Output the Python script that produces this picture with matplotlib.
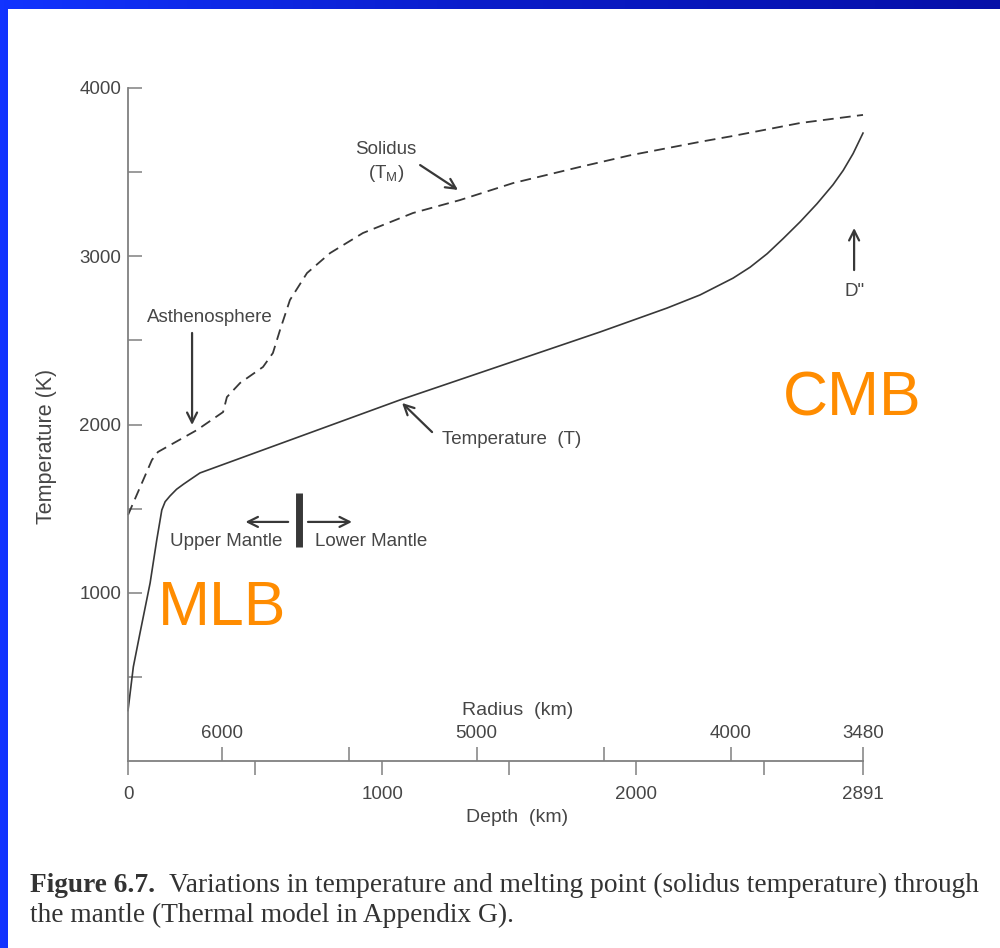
import numpy as np
import matplotlib.pyplot as plt
from matplotlib.colors import LinearSegmentedColormap
from matplotlib.patches import Rectangle

plt.rcParams['font.family'] = ['Liberation Sans', 'DejaVu Sans']

# mantle thermal model: depth (km) against temperature (K)
depth_temp = [0, 21, 47, 87, 113, 133, 146, 165, 191, 218, 244, 283, 1070, 1857, 2120, 2250, 2380,
              2447, 2514, 2577, 2644, 2710, 2773, 2813, 2852, 2891]
temp = [300, 560, 759, 1058, 1313, 1492, 1541, 1575, 1615, 1645, 1672, 1712, 2146, 2550, 2692, 2770, 2870,
        2935, 3015, 3105, 3205, 3312, 3425, 3510, 3610, 3732]

# solidus (melting point) curve
depth_solidus = [0, 94, 118, 271, 374, 389, 441, 531, 570, 598, 637, 704, 795, 924, 1121, 1306,
                 1515, 1778, 1975, 2250, 2380, 2644, 2891]
solidus = [1462, 1789, 1837, 1967, 2074, 2163, 2247, 2342, 2425, 2562, 2740, 2900, 3019, 3138, 3257, 3334,
           3435, 3531, 3600, 3680, 3715, 3792, 3840]

earth_radius = 6371
cmb_depth = 2891
depth_ticks = [0, 500, 1000, 1500, 2000, 2500, 2891]
depth_labels = ['0', '', '1000', '', '2000', '', '2891']
radius_ticks = [6000, 5500, 5000, 4500, 4000, 3480]
radius_labels = ['6000', '', '5000', '', '4000', '3480']
temp_ticks = [500, 1000, 1500, 2000, 2500, 3000, 3500, 4000]
temp_labels = ['', '1000', '', '2000', '', '3000', '', '4000']

ink = '#383838'
axis_grey = '#808080'
text_grey = '#464646'
orange = '#ff8c00'

W, H = 1000, 948
fig = plt.figure(figsize=(W / 100, H / 100), dpi=100)

# slide background: blue band with a white page on top
bg = fig.add_axes([0, 0, 1, 1], zorder=-10)
cmap = LinearSegmentedColormap.from_list('slide', ['#1234ff', '#0a1cc8', '#0610a8'])
bg.imshow(np.linspace(0, 1, 256).reshape(1, -1), cmap=cmap, aspect='auto', extent=[0, 1, 0, 1])
bg.add_patch(Rectangle((8 / W, 0), 1, 1 - 9 / H, color='white', lw=0))
bg.set_xlim(0, 1)
bg.set_ylim(0, 1)
bg.axis('off')

ax = fig.add_axes([128 / W, 1 - 761 / H, 735 / W, 673 / H])
ax.patch.set_visible(False)
ax.set_xlim(0, cmb_depth)
ax.set_ylim(0, 4000)

ax.plot(depth_temp, temp, color=ink, lw=1.2, clip_on=False, solid_joinstyle='round')
ax.plot(depth_solidus, solidus, color=ink, lw=1.3, ls=(0, (6, 3.5)), clip_on=False)

for s in ['top', 'right']:
    ax.spines[s].set_visible(False)
for s in ['left', 'bottom']:
    ax.spines[s].set_color(axis_grey)
    ax.spines[s].set_linewidth(1.3)

ax.set_xticks(depth_ticks, depth_labels)
ax.tick_params(axis='x', direction='out', length=10, width=1.1, color=axis_grey,
               labelcolor=text_grey, labelsize=13.5, pad=8)
ax.set_yticks(temp_ticks, temp_labels)
ax.tick_params(axis='y', direction='in', length=10, width=1.1, color=axis_grey,
               labelcolor=text_grey, labelsize=13.5, pad=5)
ax.set_xlabel('Depth  (km)', fontsize=14, color=text_grey, labelpad=5)
ax.xaxis.set_label_coords(0.53, -0.072)
ax.set_ylabel('Temperature (K)', fontsize=15.5, color=text_grey)
ax.yaxis.set_label_coords(-0.097, 0.468)

# radius scale sharing the depth axis line, ticks pointing up
rax = ax.twiny()
rax.set_xlim(earth_radius, earth_radius - cmb_depth)
rax.spines['top'].set_position(('axes', 0.0))
for s in ['top', 'bottom', 'left', 'right']:
    rax.spines[s].set_visible(False)
rax.set_xticks(radius_ticks, radius_labels)
rax.tick_params(axis='x', direction='out', length=10, width=1.1, color=axis_grey,
                labelcolor=text_grey, labelsize=13.5, pad=4)
rax.set_xlabel('Radius  (km)', fontsize=14, color=text_grey, labelpad=5)
rax.xaxis.set_label_coords(0.53, 0.069)

arrow = dict(arrowstyle='->', color=ink, lw=1.6, mutation_scale=18, shrinkA=0, shrinkB=0)
label_kw = dict(fontsize=13.5, color=text_grey)

ax.text(1015, 3632, 'Solidus', ha='center', va='center', **label_kw)
ax.text(1015, 3489, r'(T$_\mathregular{M}$)', ha='center', va='center', **label_kw)
ax.annotate('', xy=(1298, 3394), xytext=(1149, 3542), arrowprops=arrow)

ax.text(323, 2633, 'Asthenosphere', ha='center', va='center', **label_kw)
ax.annotate('', xy=(252, 1997), xytext=(252, 2544), arrowprops=arrow)

ax.text(1235, 1908, 'Temperature  (T)', ha='left', va='center', **label_kw)
ax.annotate('', xy=(1078, 2128), xytext=(1196, 1955), arrowprops=arrow)

ax.text(2856, 2793, 'D"', ha='center', va='center', **label_kw)
ax.annotate('', xy=(2856, 3168), xytext=(2856, 2918), arrowprops=arrow)

# upper/lower mantle boundary marker
ax.plot([671, 671], [1272, 1593], color=ink, lw=5, solid_capstyle='butt')
ax.annotate('', xy=(462, 1421), xytext=(630, 1421), arrowprops=arrow)
ax.annotate('', xy=(881, 1421), xytext=(708, 1421), arrowprops=arrow)
ax.text(386, 1302, 'Upper Mantle', ha='center', va='center', **label_kw)
ax.text(956, 1302, 'Lower Mantle', ha='center', va='center', **label_kw)

ax.text(118, 808, 'MLB', ha='left', va='baseline', fontsize=45, color=orange)
ax.text(2577, 2056, 'CMB', ha='left', va='baseline', fontsize=45, color=orange)

# figure caption
cap_kw = dict(fontsize=19.7, color='#333333', family=['Liberation Serif', 'DejaVu Serif'], va='baseline')
t1 = fig.text(30 / W, 1 - 892 / H, 'Figure 6.7.', fontweight='bold', **cap_kw)
renderer = fig.canvas.get_renderer()
bb = t1.get_window_extent(renderer)
fig.text((bb.x1 + 14) / W, 1 - 892 / H,
         'Variations in temperature and melting point (solidus temperature) through', **cap_kw)
fig.text(30 / W, 1 - 922 / H, 'the mantle (Thermal model in Appendix G).', **cap_kw)

fig.savefig('out.png', dpi=100)
